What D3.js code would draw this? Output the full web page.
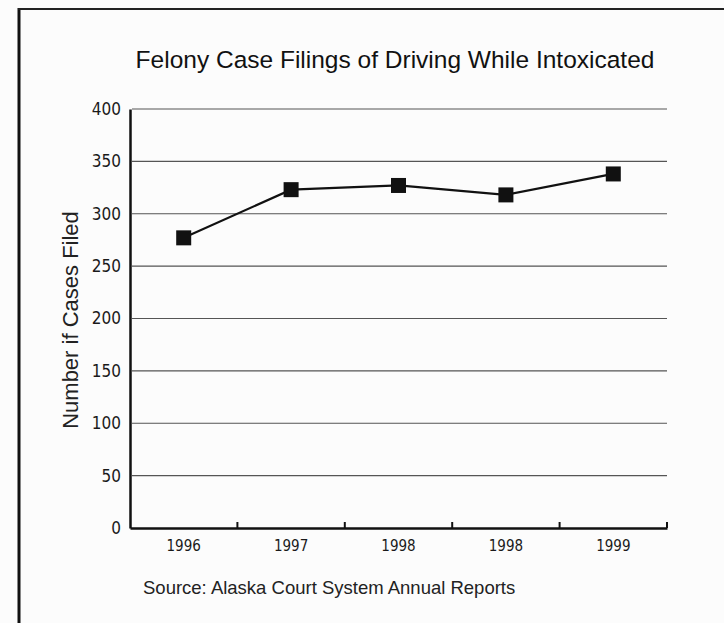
<!DOCTYPE html>
<html>
<head>
<meta charset="utf-8">
<script src="https://cdn.jsdelivr.net/npm/d3@7/dist/d3.min.js"></script>
<style>
html,body{margin:0;padding:0;background:#fcfcfc;}
svg{display:block;font-family:"Liberation Sans",Arial,sans-serif;}
.tick text{font-family:"Liberation Sans Narrow","DejaVu Sans Condensed","Liberation Sans",sans-serif;}
</style>
</head>
<body>
<svg id="chart" width="724" height="623"></svg>
<script>
const categories = ["1996", "1997", "1998", "1998 ", "1999"];
const tickLabels = ["1996", "1997", "1998", "1998", "1999"];
const values = [277, 323, 327, 318, 338];
const yTicks = [0, 50, 100, 150, 200, 250, 300, 350, 400];
const titleText = "Felony Case Filings of Driving While Intoxicated";
const yTitle = "Number if Cases Filed";
const sourceText = "Source: Alaska Court System Annual Reports";

const svg = d3.select("#chart");
const W = 724, H = 623;
const m = {left: 130, right: 667, top: 109, bottom: 528};

// frame
svg.append("line").attr("x1", 19).attr("x2", 19).attr("y1", 8).attr("y2", H)
  .attr("stroke", "#111").attr("stroke-width", 3);
svg.append("line").attr("x1", 18).attr("x2", W).attr("y1", 9).attr("y2", 9)
  .attr("stroke", "#222").attr("stroke-width", 2);

const x = d3.scaleBand().domain(categories).range([m.left, m.right]);
const y = d3.scaleLinear().domain([0, 400]).range([m.bottom, m.top]);

// gridlines
svg.append("g").selectAll("line").data(yTicks.filter(d => d > 0)).join("line")
  .attr("x1", m.left + 2).attr("x2", m.right)
  .attr("y1", d => y(d)).attr("y2", d => y(d))
  .attr("stroke", "#555").attr("stroke-width", 1.2);

// y axis
const yAxis = d3.axisLeft(y).tickValues(yTicks).tickSize(0).tickPadding(9);
const gy = svg.append("g").attr("transform", `translate(${m.left},0)`).call(yAxis);
gy.attr("font-size", null).attr("font-family", null);
gy.select(".domain").attr("stroke", "#111").attr("stroke-width", 2.5);
gy.selectAll("text").style("font-size", "17px").attr("fill", "#1a1a1a");

// x axis
const xAxis = d3.axisBottom(x).tickSize(0).tickPadding(12).tickFormat((d, i) => tickLabels[i]);
const gx = svg.append("g").attr("transform", `translate(0,${m.bottom})`).call(xAxis);
gx.attr("font-size", null).attr("font-family", null);
gx.select(".domain").attr("stroke", "#111").attr("stroke-width", 2.5);
gx.selectAll("text").style("font-size", "15px").attr("fill", "#1a1a1a");
// boundary ticks between categories
gx.append("g").selectAll("line").data(categories).join("line")
  .attr("x1", d => x(d) + x.bandwidth()).attr("x2", d => x(d) + x.bandwidth())
  .attr("y1", -6).attr("y2", 0)
  .attr("stroke", "#111").attr("stroke-width", 2);

// line
const line = d3.line().x((d, i) => x(categories[i]) + x.bandwidth() / 2).y(d => y(d));
svg.append("path").datum(values).attr("d", line)
  .attr("fill", "none").attr("stroke", "#111").attr("stroke-width", 2.2);

// markers
svg.append("g").selectAll("rect").data(values).join("rect")
  .attr("x", (d, i) => x(categories[i]) + x.bandwidth() / 2 - 7.5)
  .attr("y", d => y(d) - 7.5)
  .attr("width", 15).attr("height", 15)
  .attr("fill", "#111");

// title
svg.append("text").attr("x", 395).attr("y", 68).attr("text-anchor", "middle")
  .style("font-size", "24.5px").attr("fill", "#111").text(titleText);

// y title
svg.append("text").attr("transform", "translate(78,320) rotate(-90)")
  .attr("text-anchor", "middle").style("font-size", "22px").attr("fill", "#222").text(yTitle);

// source
svg.append("text").attr("x", 143).attr("y", 594).style("font-size", "18.5px")
  .attr("fill", "#222").text(sourceText);
</script>
</body>
</html>
